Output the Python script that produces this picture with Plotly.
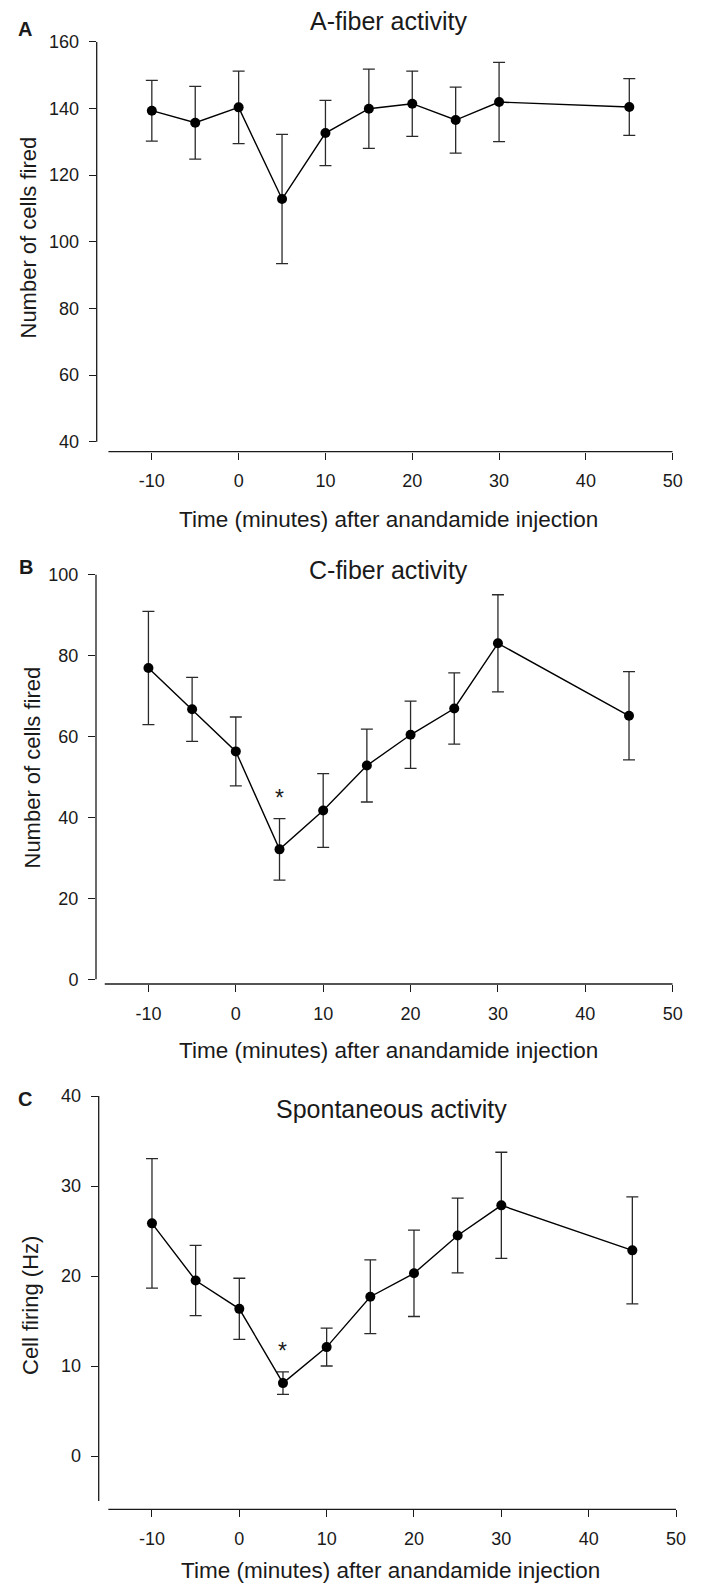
import plotly.graph_objects as go

# ---------------- data ----------------
time_min = [-10, -5, 0, 5, 10, 15, 20, 25, 30, 45]

a_mean = [139.3, 135.7, 140.3, 112.8, 132.6, 139.9, 141.4, 136.5, 141.9, 140.4]
a_err = [9.1, 10.9, 10.9, 19.4, 9.8, 11.9, 9.8, 9.9, 11.9, 8.5]

c_mean = [76.9, 66.7, 56.3, 32.1, 41.7, 52.8, 60.4, 66.9, 83.0, 65.1]
c_err = [14.0, 7.9, 8.5, 7.6, 9.1, 9.0, 8.3, 8.8, 12.0, 10.9]

s_mean = [25.85, 19.5, 16.35, 8.1, 12.1, 17.7, 20.3, 24.5, 27.85, 22.85]
s_err = [7.2, 3.9, 3.4, 1.25, 2.1, 4.1, 4.8, 4.15, 5.9, 5.95]

sig_index = [3]  # time point marked with *

x_ticks = [-10, 0, 10, 20, 30, 40, 50]
x_ticklabels = ["-10", "0", "10", "20", "30", "40", "50"]
a_yticks = [40, 60, 80, 100, 120, 140, 160]
c_yticks = [0, 20, 40, 60, 80, 100]
s_yticks = [0, 10, 20, 30, 40]

panel_titles = ["A-fiber activity", "C-fiber activity", "Spontaneous activity"]
panel_letters = ["A", "B", "C"]
y_titles = ["Number of cells fired", "Number of cells fired", "Cell firing (Hz)"]
x_title = "Time (minutes) after anandamide injection"

# ---------------- layout helpers ----------------
W, H = 703, 1590
FONT = "Liberation Sans, Arial, sans-serif"
INK = "#1a1a1a"


def px(xp):
    return xp / W


def py(yp):
    return 1 - yp / H


panels = [
    dict(mean=a_mean, err=a_err, yticks=a_yticks, xr=[-16.35, 50], xd=[96.7, 672.7],
         yr=[37.0, 160], yd=[41.7, 451.7], yline=[40, 160]),
    dict(mean=c_mean, err=c_err, yticks=c_yticks, xr=[-16.0, 50], xd=[96.0, 672.7],
         yr=[-1.16, 100], yd=[574.5, 984.0], yline=[0, 100]),
    dict(mean=s_mean, err=s_err, yticks=s_yticks, xr=[-16.1, 50], xd=[98.7, 676.0],
         yr=[-5.92, 40], yd=[1096.0, 1509.3], yline=[-5, 40]),
]

# text positions in px
title_pos = [(388, 21), (388, 570), (391, 1109)]
xtitle_pos = [(388, 520), (388, 1050), (390, 1570)]
ytitle_pos = [(28.5, 238), (31.5, 768), (30, 1306)]
letter_pos = [(25, 28.5), (26, 567), (25, 1099)]

fig = go.Figure()
layout = dict(
    width=W, height=H,
    margin=dict(l=0, r=0, t=0, b=0),
    paper_bgcolor="white", plot_bgcolor="white",
    showlegend=False,
    font=dict(family=FONT, color=INK),
)
shapes = []
annotations = []

for i, p in enumerate(panels):
    n = "" if i == 0 else str(i + 1)
    xa, ya = "x" + n, "y" + n
    fig.add_trace(go.Scatter(
        x=time_min, y=p["mean"], xaxis=xa, yaxis=ya,
        mode="lines+markers",
        line=dict(color="black", width=1.4),
        marker=dict(color="black", size=10),
        error_y=dict(type="data", array=p["err"], visible=True,
                     color="#2a2a2a", thickness=1.3, width=6),
        cliponaxis=False,
    ))
    axis_common = dict(
        showgrid=False, zeroline=False, showline=False,
        ticks="outside", ticklen=7, tickwidth=1.2, tickcolor=INK,
        tickfont=dict(family=FONT, size=18, color=INK),
        automargin=False, fixedrange=True,
    )
    layout["xaxis" + n] = dict(
        axis_common, domain=[px(p["xd"][0]), px(p["xd"][1])], range=p["xr"],
        tickvals=x_ticks, ticktext=x_ticklabels, anchor=ya, ticklabelstandoff=6,
    )
    layout["yaxis" + n] = dict(
        axis_common, domain=[py(p["yd"][1]), py(p["yd"][0])], range=p["yr"],
        tickvals=p["yticks"], ticktext=[str(v) for v in p["yticks"]],
        anchor=xa, ticklabelstandoff=6,
    )
    # axis lines (offset style)
    shapes.append(dict(type="line", xref=xa, yref=ya + " domain",
                       x0=-15, x1=50, y0=0, y1=0,
                       line=dict(color=INK, width=1.3)))
    shapes.append(dict(type="line", xref=xa + " domain", yref=ya,
                       x0=0, x1=0, y0=p["yline"][0], y1=p["yline"][1],
                       line=dict(color=INK, width=1.3)))
    # titles
    tx, ty = title_pos[i]
    annotations.append(dict(text=panel_titles[i], x=px(tx), y=py(ty), xref="paper", yref="paper",
                            xanchor="center", yanchor="middle", showarrow=False,
                            font=dict(family=FONT, size=25, color=INK)))
    tx, ty = xtitle_pos[i]
    annotations.append(dict(text=x_title, x=px(tx), y=py(ty), xref="paper", yref="paper",
                            xanchor="center", yanchor="middle", showarrow=False,
                            font=dict(family=FONT, size=22.5, color=INK)))
    tx, ty = ytitle_pos[i]
    annotations.append(dict(text=y_titles[i], x=px(tx), y=py(ty), xref="paper", yref="paper",
                            xanchor="center", yanchor="middle", showarrow=False, textangle=-90,
                            font=dict(family=FONT, size=22, color=INK)))
    tx, ty = letter_pos[i]
    annotations.append(dict(text="<b>" + panel_letters[i] + "</b>", x=px(tx), y=py(ty),
                            xref="paper", yref="paper",
                            xanchor="center", yanchor="middle", showarrow=False,
                            font=dict(family=FONT, size=20, color=INK)))
    # significance stars (panels B and C)
    if i > 0:
        for k in sig_index:
            annotations.append(dict(text="*", x=time_min[k], y=p["mean"][k] + p["err"][k],
                                    xref=xa, yref=ya, xanchor="center", yanchor="middle",
                                    yshift=21, showarrow=False,
                                    font=dict(family=FONT, size=23, color=INK)))

layout["shapes"] = shapes
layout["annotations"] = annotations
fig.update_layout(**layout)
fig.write_html("out.html")
